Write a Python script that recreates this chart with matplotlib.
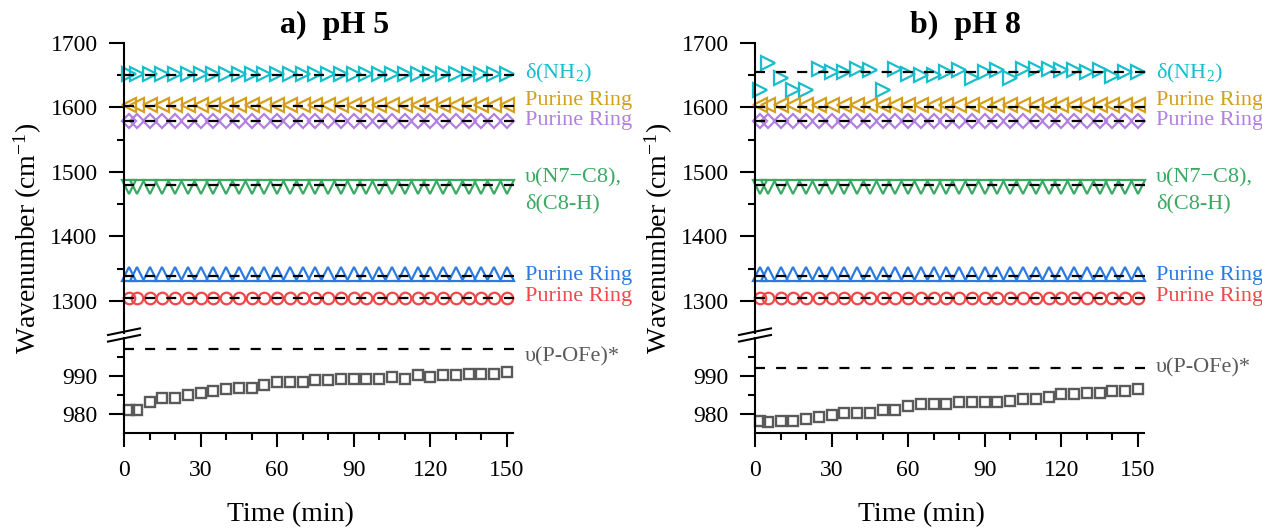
import matplotlib
matplotlib.use('Agg')
import matplotlib.pyplot as plt
from matplotlib.ticker import FixedLocator
from matplotlib.lines import Line2D

plt.rcParams['font.family'] = ['Liberation Serif', 'DejaVu Serif']
plt.rcParams['mathtext.fontset'] = 'custom'
plt.rcParams['mathtext.rm'] = 'Liberation Serif'
plt.rcParams['mathtext.it'] = 'Liberation Serif:italic'
plt.rcParams['mathtext.bf'] = 'Liberation Serif:bold'

# ---------------- data ----------------
time_min = [2, 5, 10, 15, 20, 25, 30, 35, 40, 45, 50, 55, 60, 65, 70, 75,
            80, 85, 90, 95, 100, 105, 110, 115, 120, 125, 130, 135, 140, 145, 150]

# panel a (pH 5)
a_nh2 = [1651, 1651, 1651, 1651, 1651, 1651, 1651, 1651, 1651, 1651, 1651, 1651, 1651, 1651, 1651, 1651,
         1651, 1651, 1651, 1651, 1651, 1651, 1651, 1651, 1651, 1651, 1651, 1651, 1651, 1651, 1651]
a_ring_1603 = [1603, 1603, 1603, 1603, 1603, 1603, 1603, 1603, 1603, 1603, 1603, 1603, 1603, 1603, 1603, 1603,
               1603, 1603, 1603, 1603, 1603, 1603, 1603, 1603, 1603, 1603, 1603, 1603, 1603, 1603, 1603]
a_ring_1578 = [1578, 1578, 1578, 1578, 1578, 1578, 1578, 1578, 1578, 1578, 1578, 1578, 1578, 1578, 1578, 1578,
               1578, 1578, 1578, 1578, 1578, 1578, 1578, 1578, 1578, 1578, 1578, 1578, 1578, 1578, 1578]
a_n7c8 = [1476, 1476, 1476, 1476, 1476, 1476, 1476, 1476, 1476, 1476, 1476, 1476, 1476, 1476, 1476, 1476,
          1476, 1476, 1476, 1476, 1476, 1476, 1476, 1476, 1476, 1476, 1476, 1476, 1476, 1476, 1476]
a_ring_1340 = [1341, 1341, 1341, 1341, 1341, 1341, 1341, 1341, 1341, 1341, 1341, 1341, 1341, 1341, 1341, 1341,
               1341, 1341, 1341, 1341, 1341, 1341, 1341, 1341, 1341, 1341, 1341, 1341, 1341, 1341, 1341]
a_ring_1305 = [1305, 1305, 1305, 1305, 1305, 1305, 1305, 1305, 1305, 1305, 1305, 1305, 1305, 1305, 1305, 1305,
               1305, 1305, 1305, 1305, 1305, 1305, 1305, 1305, 1305, 1305, 1305, 1305, 1305, 1305, 1305]
a_pofe = [981.0, 981.0, 983.2, 984.1, 984.1, 985.0, 985.5, 986.0, 986.5, 986.9, 986.9, 987.5, 988.3, 988.3,
          988.3, 988.8, 988.8, 989.2, 989.2, 989.2, 989.2, 989.7, 989.2, 990.2, 989.7, 990.2, 990.2, 990.6,
          990.6, 990.6, 991.1]
a_refs = [1650, 1602, 1578, 1480, 1338, 1305]
a_ref_pofe = 997

# panel b (pH 8)
b_nh2 = [1627, 1668, 1645, 1627, 1627, 1659, 1655, 1655, 1659, 1657, 1627, 1659, 1652, 1650, 1650, 1655,
         1657, 1645, 1655, 1658, 1645, 1659, 1660, 1660, 1658, 1658, 1655, 1658, 1648, 1655, 1655]
b_ring_1603 = [1603, 1603, 1603, 1603, 1603, 1603, 1603, 1603, 1603, 1603, 1604, 1604, 1603, 1604, 1604, 1603,
               1603, 1603, 1603, 1603, 1603, 1603, 1603, 1603, 1603, 1603, 1603, 1603, 1603, 1603, 1603]
b_ring_1578 = [1579, 1579, 1579, 1579, 1579, 1579, 1579, 1579, 1579, 1579, 1579, 1579, 1579, 1579, 1579, 1579,
               1579, 1579, 1579, 1579, 1579, 1579, 1579, 1579, 1579, 1579, 1579, 1579, 1579, 1579, 1579]
b_n7c8 = [1477, 1477, 1477, 1477, 1477, 1477, 1477, 1477, 1477, 1477, 1477, 1477, 1477, 1477, 1477, 1477,
          1477, 1477, 1477, 1477, 1477, 1477, 1477, 1477, 1477, 1477, 1477, 1477, 1477, 1477, 1477]
b_ring_1340 = [1341, 1341, 1341, 1341, 1341, 1341, 1341, 1341, 1341, 1341, 1341, 1341, 1341, 1341, 1341, 1341,
               1341, 1341, 1341, 1341, 1341, 1341, 1341, 1341, 1341, 1341, 1341, 1341, 1341, 1341, 1341]
b_ring_1305 = [1305, 1305, 1305, 1305, 1305, 1305, 1305, 1305, 1305, 1305, 1305, 1305, 1305, 1305, 1305, 1305,
               1305, 1305, 1305, 1305, 1305, 1305, 1305, 1305, 1305, 1305, 1305, 1305, 1305, 1305, 1305]
b_pofe = [978.2, 977.7, 978.2, 978.2, 978.7, 979.2, 979.7, 980.3, 980.3, 980.3, 981.0, 981.0, 982.0, 982.6,
          982.6, 982.6, 983.1, 983.1, 983.1, 983.1, 983.5, 984.0, 984.0, 984.5, 985.1, 985.1, 985.5, 985.5,
          986.0, 986.0, 986.5]
b_refs = [1655, 1601, 1579, 1480, 1338, 1304]
b_ref_pofe = 992

titles = ['a)  pH 5', 'b)  pH 8']
band_labels = ['δ(NH$_2$)', 'Purine Ring', 'Purine Ring', 'υ(N7−C8),', 'δ(C8-H)', 'Purine Ring', 'Purine Ring']
band_label_y = [1652, 1611, 1579, 1490, 1451, 1340, 1307]
pofe_label = 'υ(P-OFe)*'
pofe_label_y = [995, 992]
x_ticks = [0, 30, 60, 90, 120, 150]
upper_yticks = [1300, 1400, 1500, 1600, 1700]
lower_yticks = [980, 990]

# ---------------- style ----------------
c_cyan = '#17bfcc'
c_orange = '#d69f1b'
c_purple = '#b27fe2'
c_green = '#3aa962'
c_blue = '#2a7ae2'
c_red = '#f04848'
c_gray = '#5a5a5a'
series_style = [(c_cyan, '>', 10.5), (c_orange, '<', 10.5), (c_purple, 'D', 7.4),
                (c_green, 'v', 10.5), (c_blue, '^', 10.5), (c_red, 'o', 8.3)]
label_colors = [c_cyan, c_orange, c_purple, c_green, c_green, c_blue, c_red]

W, H = 1262, 529
fig = plt.figure(figsize=(W / 100, H / 100), dpi=100)


def px_axes(left, top, right, bottom):
    return fig.add_axes([left / W, 1 - bottom / H, (right - left) / W, (bottom - top) / H])


panels = [
    dict(dx=0, series=[a_nh2, a_ring_1603, a_ring_1578, a_n7c8, a_ring_1340, a_ring_1305],
         pofe=a_pofe, refs=a_refs, ref_pofe=a_ref_pofe),
    dict(dx=631, series=[b_nh2, b_ring_1603, b_ring_1578, b_n7c8, b_ring_1340, b_ring_1305],
         pofe=b_pofe, refs=b_refs, ref_pofe=b_ref_pofe),
]

XMAX = 152.3
LW = 1.5
for i, p in enumerate(panels):
    dx = p['dx']
    ax_u = px_axes(124 + dx, 42.7, 512.7 + dx, 333.1)
    ax_l = px_axes(124 + dx, 338.0, 512.7 + dx, 432.7)

    for ax in (ax_u, ax_l):
        ax.set_xlim(0, XMAX)
        ax.spines['top'].set_visible(False)
        ax.spines['right'].set_visible(False)
        ax.spines['left'].set_linewidth(LW)
        ax.spines['bottom'].set_linewidth(LW)
        ax.patch.set_alpha(0)
        ax.tick_params(axis='y', which='major', direction='out', length=11, width=LW,
                       labelsize=17, pad=8)
        ax.tick_params(axis='y', which='minor', direction='out', length=5, width=LW)

    ax_u.set_ylim(1250, 1700)
    ax_u.spines['bottom'].set_visible(False)
    ax_u.tick_params(axis='x', which='both', bottom=False, labelbottom=False)
    ax_u.yaxis.set_major_locator(FixedLocator(upper_yticks))
    ax_u.yaxis.set_minor_locator(FixedLocator([1350, 1450, 1550, 1650]))

    ax_l.set_ylim(975, 1000)
    ax_l.yaxis.set_major_locator(FixedLocator(lower_yticks))
    ax_l.yaxis.set_minor_locator(FixedLocator([985, 995]))
    ax_l.xaxis.set_major_locator(FixedLocator(x_ticks))
    ax_l.xaxis.set_minor_locator(FixedLocator([10, 20, 40, 50, 70, 80, 100, 110, 130, 140]))
    ax_l.tick_params(axis='x', which='major', direction='out', length=10, width=LW,
                     labelsize=17, pad=10)
    ax_l.tick_params(axis='x', which='minor', direction='out', length=5, width=LW)

    # series markers
    for vals, (col, mk, ms) in zip(p['series'], series_style):
        ax_u.plot(time_min, vals, ls='none', marker=mk, ms=ms, mfc='none', mec=col,
                  mew=1.6, zorder=2, clip_on=False)
    # reference dashed lines
    for r in p['refs']:
        ax_u.plot([0, 155.3], [r, r], ls=(0, (4.5, 5.0)), color='black', lw=1.6,
                  zorder=3, clip_on=False)
    ax_l.plot(time_min, p['pofe'], ls='none', marker='s', ms=7.4, mfc='none', mec=c_gray,
              mew=1.7, zorder=2, clip_on=False)
    ax_l.plot([0, 155.3], [p['ref_pofe'], p['ref_pofe']], ls=(0, (4.5, 5.0)), color='black',
              lw=1.6, zorder=3, clip_on=False)

    # right-hand labels
    for lab, ly, col in zip(band_labels, band_label_y, label_colors):
        ax_u.text(157.0, ly, lab, color=col, fontsize=16, ha='left', va='center', clip_on=False)
    ax_l.text(157.0, pofe_label_y[i], pofe_label, color=c_gray, fontsize=16, ha='left',
              va='center', clip_on=False)

    # axis break marks
    for yc in (331.7, 338.3):
        fig.add_artist(Line2D([(108 + dx) / W, (140 + dx) / W],
                              [1 - (yc + 3.3) / H, 1 - (yc - 3.3) / H],
                              color='black', lw=LW, transform=fig.transFigure))

    # titles and axis labels
    fig.text((335 + dx) / W, 1 - 25 / H, titles[i], fontsize=23, fontweight='bold',
             ha='center', va='center')
    fig.text((290 + dx) / W, 1 - 515 / H, 'Time (min)', fontsize=20, ha='center', va='center')
    fig.text((28 + dx) / W, 1 - 238 / H, 'Wavenumber (cm$^{-1}$)', fontsize=20,
             rotation=90, ha='center', va='center')

fig.savefig('out.png', dpi=100)
